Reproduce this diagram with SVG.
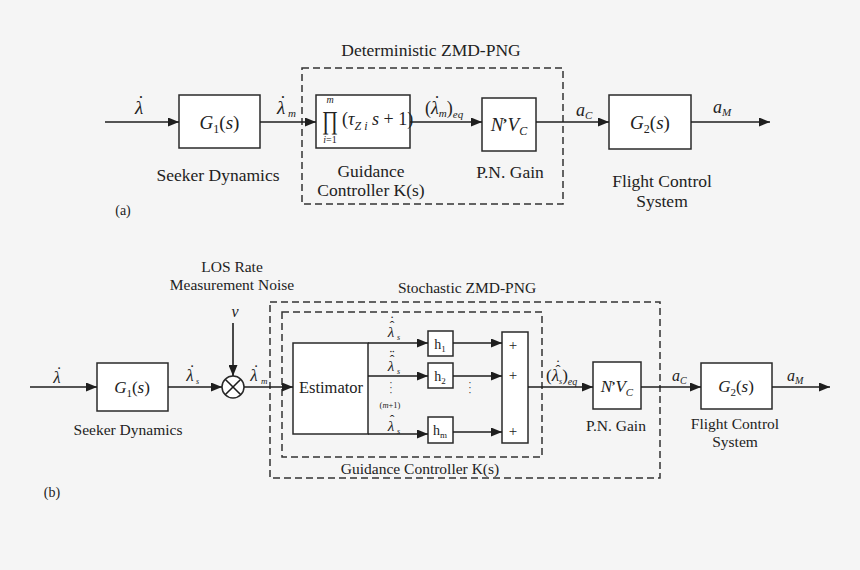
<svg xmlns="http://www.w3.org/2000/svg" width="860" height="570" viewBox="0 0 860 570">
<defs>
<marker id="arr" markerWidth="11" markerHeight="9" refX="11" refY="4.5" orient="auto" markerUnits="userSpaceOnUse">
<path d="M0,0 L11,4.5 L0,9 z" fill="#1e1e1e"/>
</marker>
<style>
.bx{fill:#fff;stroke:#2a2a2a;stroke-width:1.5}
.ds{fill:none;stroke:#333;stroke-width:1.5;stroke-dasharray:7,4}
.ln{fill:none;stroke:#1e1e1e;stroke-width:1.6}
.ar{fill:none;stroke:#1e1e1e;stroke-width:1.6;marker-end:url(#arr)}
text{font-family:"Liberation Serif","Times New Roman",serif;fill:#222}
.t1{font-size:17.5px}
.t2{font-size:15.5px}
.it{font-style:italic}
.c{text-anchor:middle}
.s{text-anchor:start}
.pr{font-style:normal;font-weight:bold}
</style>
</defs>
<rect width="860" height="570" fill="#f5f5f5"/>

<!-- ===== (a) ===== -->
<g id="group-a">
<rect class="ds" x="302" y="68" width="261" height="136"/>
<text class="t1 c" x="431" y="56">Deterministic ZMD-PNG</text>
<text x="123" y="215" font-size="14" class="c">(a)</text>
</g>

<g id="a-seeker">
<rect class="bx" x="179" y="95" width="81" height="53"/>
<text x="219.5" y="129" font-size="19" class="c"><tspan class="it">G</tspan><tspan font-size="12" dy="4">1</tspan><tspan dy="-4">(</tspan><tspan class="it">s</tspan>)</text>
<text class="t1 c" x="218" y="181">Seeker Dynamics</text>
</g>

<g id="a-guidance">
<rect class="bx" x="316" y="95" width="94" height="53"/>
<text x="322" y="129" font-size="26" textLength="16" lengthAdjust="spacingAndGlyphs">∏</text>
<text x="330" y="103" font-size="10" class="c it">m</text>
<text x="330" y="143" font-size="10" class="c"><tspan class="it">i</tspan>=1</text>
<text x="342" y="125" font-size="18">(<tspan class="it">τ</tspan><tspan font-size="12" dy="5" class="it">Z i</tspan><tspan dy="-5" class="it"> s</tspan> + 1)</text>
<text class="t1 c" x="371" y="177">Guidance</text>
<text class="t1 c" x="371" y="196">Controller K(s)</text>
</g>

<g id="a-pn">
<rect class="bx" x="482" y="98" width="54" height="53"/>
<text x="509" y="131" font-size="19" class="c"><tspan class="it">N</tspan><tspan class="pr" font-size="15" dx="-1" dy="-2">’</tspan><tspan class="it" dy="2">V</tspan><tspan font-size="12" dy="4" class="it">C</tspan></text>
<text class="t1 c" x="510" y="178">P.N. Gain</text>
</g>

<g id="a-flight">
<rect class="bx" x="609" y="95" width="82" height="54"/>
<text x="650" y="129" font-size="19" class="c"><tspan class="it">G</tspan><tspan font-size="12" dy="4">2</tspan><tspan dy="-4">(</tspan><tspan class="it">s</tspan>)</text>
<text class="t1 c" x="662" y="187">Flight Control</text>
<text class="t1 c" x="662" y="207">System</text>
</g>

<g id="a-connectors">
<line class="ar" x1="105" y1="122" x2="179" y2="122"/>
<line class="ar" x1="260" y1="122" x2="316" y2="122"/>
<line class="ar" x1="410" y1="122" x2="482" y2="122"/>
<line class="ar" x1="536" y1="122" x2="609" y2="122"/>
<line class="ar" x1="691" y1="122" x2="770" y2="122"/>
<text font-size="19" class="c"><tspan x="139" y="114" class="it c">λ</tspan><tspan x="141" y="109" class="c">˙</tspan></text>
<text font-size="19" class="c"><tspan x="281" y="114" class="it c">λ</tspan><tspan x="283" y="109" class="c">˙</tspan><tspan x="288" y="117" font-size="11" class="it s">m</tspan></text>
<text x="425" y="114" font-size="18">(<tspan class="it">λ</tspan><tspan font-size="11" dy="3" class="it">m</tspan><tspan dy="-3">)</tspan><tspan font-size="11" dy="4" class="it">eq</tspan><tspan x="437" y="109" class="c">˙</tspan></text>
<text x="576" y="116" font-size="18" class="it">a<tspan font-size="11" dy="3">C</tspan></text>
<text x="713" y="113" font-size="18" class="it">a<tspan font-size="11" dy="3">M</tspan></text>
</g>

<!-- ===== (b) ===== -->
<g id="group-b">
<rect class="ds" x="270" y="302" width="390" height="176"/>
<text class="t2 c" x="467" y="293">Stochastic ZMD-PNG</text>
<text x="52" y="497" font-size="14" class="c">(b)</text>
</g>

<g id="b-seeker">
<rect class="bx" x="97" y="363" width="71" height="48"/>
<text x="132" y="393" font-size="17" class="c"><tspan class="it">G</tspan><tspan font-size="11" dy="4">1</tspan><tspan dy="-4">(</tspan><tspan class="it">s</tspan>)</text>
<text class="t2 c" x="128" y="435">Seeker Dynamics</text>
</g>

<g id="b-noise">
<circle cx="233" cy="387" r="11" class="bx"/>
<line class="ln" x1="225.2" y1="379.2" x2="240.8" y2="394.8"/>
<line class="ln" x1="225.2" y1="394.8" x2="240.8" y2="379.2"/>
<text class="t2 c" x="232" y="272">LOS Rate</text>
<text class="t2 c" x="232" y="290">Measurement Noise</text>
<text x="235" y="317" font-size="16" class="c it">v</text>
</g>

<g id="b-guidance">
<rect class="ds" x="282" y="312" width="260" height="145"/>
<rect class="bx" x="293" y="343" width="75" height="91"/>
<text x="331" y="393" font-size="16.5" class="c">Estimator</text>
<rect class="bx" x="428" y="331" width="25" height="25"/>
<text x="440" y="349" font-size="14" class="c">h<tspan font-size="9" dy="3">1</tspan></text>
<rect class="bx" x="428" y="363" width="25" height="25"/>
<text x="440" y="381" font-size="14" class="c">h<tspan font-size="9" dy="3">2</tspan></text>
<rect class="bx" x="428" y="417" width="25" height="26"/>
<text x="440" y="435" font-size="14" class="c">h<tspan font-size="9" dy="3">m</tspan></text>
<rect class="bx" x="502" y="332" width="26" height="111"/>
<text x="513" y="350" font-size="15" class="c">+</text>
<text x="513" y="380" font-size="15" class="c">+</text>
<text x="513" y="436" font-size="15" class="c">+</text>
<text class="t2 c" x="420" y="474">Guidance Controller K(s)</text>
<text font-size="15" class="c"><tspan x="391" y="337" class="it c">λ</tspan><tspan x="392" y="331" font-size="14" class="c">ˆ</tspan><tspan x="392" y="326" font-size="14" class="c">˙</tspan><tspan x="397" y="340" font-size="8" class="it s">s</tspan></text>
<text font-size="15" class="c"><tspan x="391" y="371" class="it c">λ</tspan><tspan x="392" y="365" font-size="14" class="c">ˆ</tspan><tspan x="392" y="360" font-size="14" class="c">¨</tspan><tspan x="397" y="374" font-size="8" class="it s">s</tspan></text>
<text font-size="10" class="c"><tspan x="391" y="386">·</tspan><tspan x="391" y="391">·</tspan><tspan x="391" y="396">·</tspan></text>
<text x="390" y="408" font-size="8.5" class="c">(<tspan class="it">m</tspan>+1)</text>
<text font-size="15" class="c"><tspan x="391" y="431" class="it c">λ</tspan><tspan x="392" y="425" font-size="14" class="c">ˆ</tspan><tspan x="397" y="434" font-size="8" class="it s">s</tspan></text>
<text font-size="10" class="c"><tspan x="470" y="386">·</tspan><tspan x="470" y="391">·</tspan><tspan x="470" y="396">·</tspan></text>
</g>

<g id="b-pn">
<rect class="bx" x="593" y="362" width="48" height="47"/>
<text x="617" y="392" font-size="17" class="c"><tspan class="it">N</tspan><tspan class="pr" font-size="13" dx="-1" dy="-2">’</tspan><tspan class="it" dy="2">V</tspan><tspan font-size="11" dy="4" class="it">C</tspan></text>
<text class="t2 c" x="616" y="431">P.N. Gain</text>
</g>

<g id="b-flight">
<rect class="bx" x="701" y="363" width="71" height="46"/>
<text x="736" y="392" font-size="17" class="c"><tspan class="it">G</tspan><tspan font-size="11" dy="4">2</tspan><tspan dy="-4">(</tspan><tspan class="it">s</tspan>)</text>
<text class="t2 c" x="735" y="429">Flight Control</text>
<text class="t2 c" x="735" y="447">System</text>
</g>

<g id="b-connectors">
<line class="ar" x1="30" y1="387" x2="97" y2="387"/>
<line class="ar" x1="168" y1="387" x2="222" y2="387"/>
<line class="ar" x1="233" y1="323" x2="233" y2="376"/>
<line class="ar" x1="244" y1="387" x2="293" y2="387"/>
<line class="ar" x1="368" y1="343" x2="428" y2="343"/>
<line class="ar" x1="368" y1="376" x2="428" y2="376"/>
<line class="ar" x1="368" y1="434" x2="428" y2="434"/>
<line class="ar" x1="453" y1="343" x2="502" y2="343"/>
<line class="ar" x1="453" y1="376" x2="502" y2="376"/>
<line class="ar" x1="453" y1="432" x2="502" y2="432"/>
<line class="ar" x1="528" y1="387" x2="593" y2="387"/>
<line class="ar" x1="641" y1="387" x2="701" y2="387"/>
<line class="ar" x1="772" y1="387" x2="830" y2="387"/>
<text font-size="17" class="c"><tspan x="57" y="383" class="it c">λ</tspan><tspan x="59" y="378" class="c">˙</tspan></text>
<text font-size="17" class="c"><tspan x="190" y="381" class="it c">λ</tspan><tspan x="192" y="376" class="c">˙</tspan><tspan x="196" y="384" font-size="8" class="it s">s</tspan></text>
<text font-size="17" class="c"><tspan x="254" y="381" class="it c">λ</tspan><tspan x="256" y="376" class="c">˙</tspan><tspan x="261" y="384" font-size="9" class="it s">m</tspan></text>
<text x="546" y="381" font-size="17">(<tspan class="it">λ</tspan><tspan font-size="8" dy="3" class="it">s</tspan><tspan dy="-3">)</tspan><tspan font-size="10" dy="4" class="it">eq</tspan><tspan x="558" y="375" font-size="15" class="c">ˆ</tspan><tspan x="558" y="370" font-size="15" class="c">˙</tspan></text>
<text x="672" y="381" font-size="16" class="it">a<tspan font-size="10" dy="3">C</tspan></text>
<text x="787" y="381" font-size="16" class="it">a<tspan font-size="10" dy="3">M</tspan></text>
</g>
</svg>
